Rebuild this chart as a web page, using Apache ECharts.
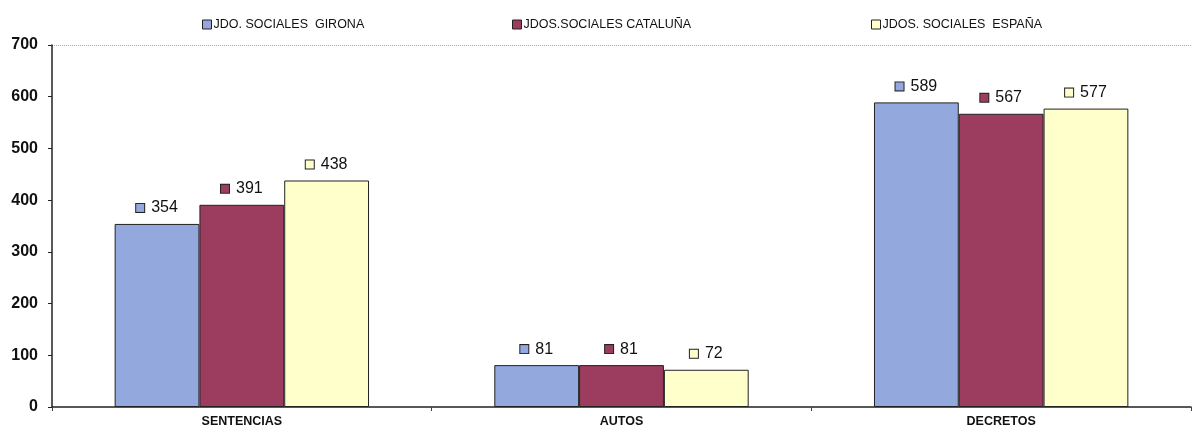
<!DOCTYPE html>
<html>
<head>
<meta charset="utf-8">
<script src="https://cdn.jsdelivr.net/npm/echarts@6/dist/echarts.min.js"></script>
<style>
  html, body { margin: 0; padding: 0; background: #fff; }
  #chart { width: 1193px; height: 429px; }
</style>
</head>
<body>
<div id="chart"></div>
<script>
const categories = ['SENTENCIAS', 'AUTOS', 'DECRETOS'];
const seriesNames = ['JDO. SOCIALES  GIRONA', 'JDOS.SOCIALES CATALUÑA', 'JDOS. SOCIALES  ESPAÑA'];
const girona = [354, 81, 589];
const cataluna = [391, 81, 567];
const espana = [438, 72, 577];
const yTicks = [0, 100, 200, 300, 400, 500, 600, 700];

const colors = ['#93a8dd', '#9c3d60', '#ffffcc'];
const seriesData = [girona, cataluna, espana];
const legendLeft = [197, 507, 866];

const chart = echarts.init(document.getElementById('chart'));

const series = seriesNames.map(function (name, i) {
  return {
    name: name,
    type: 'bar',
    data: seriesData[i],
    barGap: '0%',
    barCategoryGap: '33%',
    itemStyle: { color: colors[i], borderColor: '#222', borderWidth: 1 },
    label: {
      show: true,
      position: 'top',
      distance: 8,
      formatter: '{sq|}{v|{c}}',
      rich: {
        sq: {
          width: 8, height: 8,
          backgroundColor: colors[i],
          borderColor: '#222', borderWidth: 1
        },
        v: { fontFamily: 'Arial, Liberation Sans', fontSize: 16, color: '#111', padding: [0, 0, 0, 7] }
      }
    }
  };
});

chart.setOption({
  animation: false,
  legend: seriesNames.map(function (name, i) {
    return {
      data: [name],
      left: legendLeft[i],
      top: 13,
      itemWidth: 9,
      itemHeight: 9,
      itemGap: 2,
      icon: 'rect',
      itemStyle: { borderColor: '#222', borderWidth: 1 },
      textStyle: { fontFamily: 'Arial, Liberation Sans', fontSize: 12.5, color: '#111', padding: [0, 0, 0, -3] }
    };
  }),
  grid: { left: 52, right: 2, top: 45, bottom: 22 },
  xAxis: {
    type: 'category',
    data: categories,
    axisLine: { lineStyle: { color: '#222', width: 1.5 } },
    axisTick: { show: true, length: 4, lineStyle: { color: '#444' } },
    axisLabel: { fontFamily: 'Arial, Liberation Sans', fontWeight: 'bold', fontSize: 12.5, color: '#111', margin: 8 }
  },
  yAxis: {
    type: 'value',
    min: 0,
    max: yTicks[yTicks.length - 1],
    interval: 100,
    axisLine: { show: true, lineStyle: { color: '#222', width: 1.5 } },
    axisTick: { show: true, length: 4, lineStyle: { color: '#222' } },
    axisLabel: {
      fontFamily: 'Arial, Liberation Sans', fontWeight: 'bold', fontSize: 16, color: '#111', margin: 14,
      formatter: function (v) { return yTicks.indexOf(v) >= 0 ? String(v) : ''; }
    },
    splitLine: {
      show: true,
      lineStyle: { color: ['transparent', 'transparent', 'transparent', 'transparent', 'transparent', 'transparent', 'transparent', '#aaa'], type: 'dotted' }
    }
  },
  series: series
});
</script>
</body>
</html>
